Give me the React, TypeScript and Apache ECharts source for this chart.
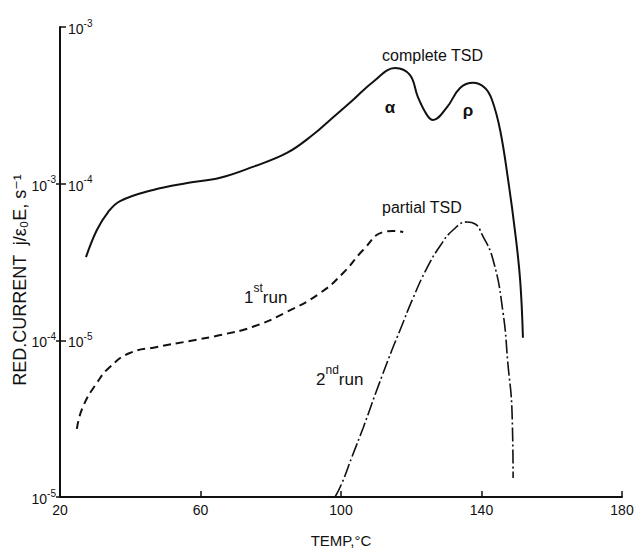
import React, { useEffect, useRef } from "react";
import * as echarts from "echarts";

// Temperature (°C) and reduced current (right-hand scale units)
const completeTemp = [27.4, 30.5, 33.7, 37.1, 46.5, 56.2, 65.6, 74.9, 84.6, 92.0, 96.9, 103.4, 109.1, 115.4, 119.6, 121.9, 124.5, 126.2, 130.2, 133.9, 137.6, 141.0, 143.0, 145.3, 147.6, 149.5, 151.0, 151.8];
const completeCurrent = [3.4e-5, 5.06e-5, 6.59e-5, 7.74e-5, 9.12e-5, 1.01e-4, 1.09e-4, 1.28e-4, 1.57e-4, 2.05e-4, 2.55e-4, 3.42e-4, 4.46e-4, 5.47e-4, 4.94e-4, 3.57e-4, 2.74e-4, 2.55e-4, 3.08e-4, 4.08e-4, 4.4e-4, 4.08e-4, 3.42e-4, 2.2e-4, 1.05e-4, 5.06e-5, 2.43e-5, 1.04e-5];

const run1Temp = [24.8, 26.5, 30.5, 34.2, 39.9, 47.6, 57.0, 65.6, 74.9, 84.6, 94.0, 100.6, 106.3, 112.0, 114.8, 117.7];
const run1Current = [2.72e-6, 3.75e-6, 5.35e-6, 6.76e-6, 8.3e-6, 9.06e-6, 9.91e-6, 1.08e-5, 1.22e-5, 1.52e-5, 2.0e-5, 2.69e-5, 3.77e-5, 4.91e-5, 4.99e-5, 4.91e-5];

const run2Temp = [98.3, 100.3, 103.1, 106.3, 110.2, 114.5, 116.8, 120.5, 124.5, 128.2, 131.9, 135.9, 138.2, 140.1, 143.3, 146.1, 147.5, 148.7, 149.0];
const run2Current = [1.0e-6, 1.23e-6, 1.8e-6, 2.76e-6, 4.82e-6, 8.67e-6, 1.16e-5, 1.86e-5, 2.9e-5, 4.0e-5, 5.06e-5, 5.69e-5, 5.53e-5, 4.77e-5, 3.26e-5, 1.52e-5, 7.17e-6, 3.44e-6, 1.32e-6];

const xTicks = { min: 20, max: 180, interval: 40 };
const rightScale = { min: 1e-6, max: 1e-3 };
const leftScale = { min: 1e-5, max: 1e-2 };
const leftTickValues = [1e-5, 1e-4, 1e-3];

const FONT = "'Liberation Sans', 'DejaVu Sans', sans-serif";
const INK = "#111";

const zip = (a: number[], b: number[]) => a.map((v, i) => [v, b[i]]);

const supRich = {
  b: { fontSize: 14, lineHeight: 18, verticalAlign: "bottom", color: INK, fontFamily: FONT },
  s: { fontSize: 10, lineHeight: 11, verticalAlign: "top", color: INK, fontFamily: FONT },
};

const expLabel = (v: number) => {
  const e = Math.round(Math.log10(v));
  return `{b|10}{s|${e}}`;
};

export default function App() {
  const ref = useRef<HTMLDivElement>(null);
  useEffect(() => {
    if (!ref.current) return;
    const chart = echarts.init(ref.current, null, { renderer: "svg" });
    const labelRich = {
      n: { fontSize: 17, lineHeight: 24, verticalAlign: "bottom", fontFamily: FONT, fill: INK },
      s: { fontSize: 12, lineHeight: 12, verticalAlign: "top", fontFamily: FONT, fill: INK },
    };
    chart.setOption({
      animation: false,
      backgroundColor: "#fff",
      grid: { left: 60, right: 12, top: 27, bottom: 56, containLabel: false, outerBoundsMode: "none" },
      xAxis: {
        type: "value",
        min: xTicks.min,
        max: xTicks.max,
        interval: xTicks.interval,
        name: "TEMP,°C",
        nameLocation: "middle",
        nameGap: 36,
        nameTextStyle: { fontSize: 15, color: INK, fontFamily: FONT },
        axisLine: { lineStyle: { color: INK, width: 2 } },
        axisTick: { inside: true, length: 6, lineStyle: { color: INK, width: 1.5 } },
        axisLabel: { fontSize: 14, color: INK, fontFamily: FONT, margin: 6 },
        splitLine: { show: false },
      },
      yAxis: [
        {
          type: "log",
          logBase: 10,
          min: rightScale.min,
          max: rightScale.max,
          position: "left",
          axisLine: { show: true, lineStyle: { color: INK, width: 2 } },
          axisTick: { show: true, inside: true, length: 6, lineStyle: { color: INK, width: 1.5 } },
          minorTick: { show: false },
          axisLabel: {
            inside: true,
            margin: 8,
            formatter: (v: number) => (Math.round(Math.log10(v)) === -6 ? "" : expLabel(v)),
            rich: supRich,
          },
          splitLine: { show: false },
        },
        {
          type: "log",
          logBase: 10,
          min: leftScale.min,
          max: leftScale.max,
          position: "left",
          offset: 0,
          axisLine: { show: false },
          axisTick: { show: true, inside: false, length: 4, customValues: leftTickValues, lineStyle: { color: INK, width: 1.5 } },
          axisLabel: {
            inside: false,
            margin: 4,
            customValues: leftTickValues,
            formatter: (v: number) => expLabel(v),
            rich: supRich,
          },
          splitLine: { show: false },
        },
      ],
      series: [
        {
          name: "complete TSD",
          type: "line",
          yAxisIndex: 0,
          data: zip(completeTemp, completeCurrent),
          smooth: 0.4,
          showSymbol: false,
          lineStyle: { color: INK, width: 2 },
        },
        {
          name: "1st run",
          type: "line",
          yAxisIndex: 0,
          data: zip(run1Temp, run1Current),
          smooth: 0.5,
          showSymbol: false,
          lineStyle: { color: INK, width: 2, type: [8, 5] },
        },
        {
          name: "2nd run",
          type: "line",
          yAxisIndex: 0,
          data: zip(run2Temp, run2Current),
          smooth: 0.5,
          showSymbol: false,
          lineStyle: { color: INK, width: 1.6, type: [14, 3, 2, 3] },
        },
      ],
      graphic: [
        {
          type: "text",
          x: 20,
          y: 280,
          rotation: Math.PI / 2,
          style: { text: "RED.CURRENT  j/ε₀E, s⁻¹", fontSize: 18, fontFamily: FONT, fill: INK, align: "center", verticalAlign: "middle" },
        },
        { type: "text", x: 382, y: 55, style: { text: "complete TSD", fontSize: 16, fontFamily: FONT, fill: INK, verticalAlign: "middle" } },
        { type: "text", x: 390, y: 107, style: { text: "α", fontSize: 17, fontWeight: "bold", fontFamily: FONT, fill: INK, align: "center", verticalAlign: "middle" } },
        { type: "text", x: 468, y: 110, style: { text: "ρ", fontSize: 17, fontWeight: "bold", fontFamily: FONT, fill: INK, align: "center", verticalAlign: "middle" } },
        { type: "text", x: 382, y: 207, style: { text: "partial TSD", fontSize: 16, fontFamily: FONT, fill: INK, verticalAlign: "middle" } },
        { type: "text", x: 244, y: 294, style: { text: "{n|1}{s|st}{n|run}", rich: labelRich, verticalAlign: "middle" } },
        { type: "text", x: 316, y: 376, style: { text: "{n|2}{s|nd}{n|run}", rich: labelRich, verticalAlign: "middle" } },
      ],
    });
    return () => chart.dispose();
  }, []);
  return <div ref={ref} style={{ position: "fixed", left: 0, top: 0, width: 634, height: 553 }} />;
}
